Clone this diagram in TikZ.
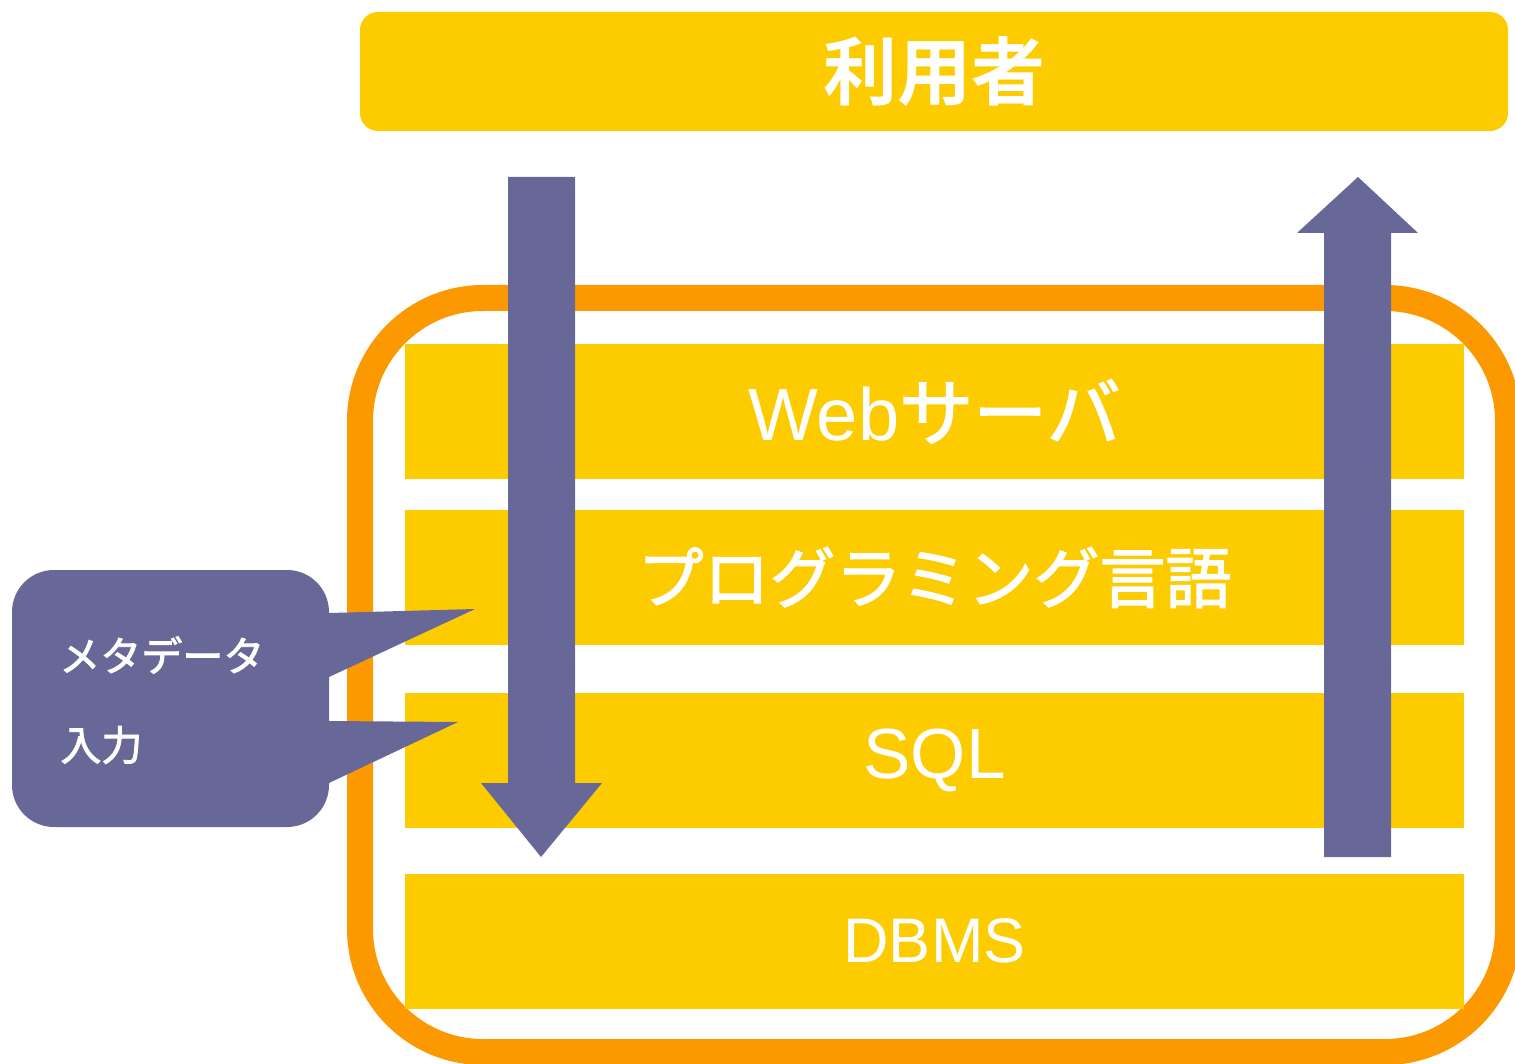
\documentclass[tikz,border=0pt]{standalone}
\usepackage{fontspec}
\setmainfont{Liberation Sans}
\newfontfamily\jpfont{Noto Sans CJK JP}[FakeBold=2,BoldFont={Noto Sans CJK JP Bold},BoldFeatures={FakeBold=0}]
\definecolor{layerc}{RGB}{252,204,0}
\definecolor{framec}{RGB}{253,153,0}
\definecolor{flowc}{RGB}{103,104,152}

\begin{document}
\begin{tikzpicture}[x=0.5pt,y=-0.5pt]
	\tikzstyle{layer}=[fill=layerc,text=white,inner sep=0pt,minimum width=529.5pt,minimum height=67.5pt]
	\tikzstyle{flow}=[fill=flowc,draw=none]
	\tikzstyle{note}=[text=white,inner sep=0pt,anchor=west,font=\jpfont\fontsize{20.5}{20.5}\selectfont]
	\useasboundingbox (0,0) rectangle (1515,1064);
	% user on top
	\node (user) [layer, rounded corners=9pt, minimum width=574pt, minimum height=59.5pt, font=\jpfont\bfseries\fontsize{37}{37}\selectfont] at (934,71.5) {利用者};
	% system frame and its layers
	\draw[framec, line width=13pt, rounded corners=61.5pt] (360,298) rectangle (1508,1052);
	\node (web) [layer, font=\fontsize{37}{37}\selectfont] at (934.5,411.5) {Web{\jpfont サーバ}};
	\node (lang) [layer, font=\jpfont\fontsize{33}{33}\selectfont] at (934.5,577.5) {プログラミング言語};
	\node (sql) [layer, font=\fontsize{35.5}{35.5}\selectfont] at (934.5,760) {SQL};
	\node (dbms) [layer, font=\fontsize{31.5}{31.5}\selectfont] at (934.5,941) {DBMS};
	% request down, response up
	\fill[flow] (508,177) -- (575,177) -- (575,783) -- (602,783) -- (541,857) -- (481,783) -- (508,783) -- cycle;
	\fill[flow] (1324,857) -- (1324,233) -- (1297,233) -- (1358,177) -- (1418,233) -- (1391,233) -- (1391,857) -- cycle;
	% callout
	\node (meta) [flow, rounded corners=21pt, minimum width=158.5pt, minimum height=128.5pt] at (170.5,698.5) {};
	\fill[flow] (329,613) -- (475,609) -- (329,677) -- cycle;
	\fill[flow] (329,721) -- (458,722) -- (329,783) -- cycle;
	\node (metatext) [note] at (59,655) {メタデータ};
	\node (inputtext) [note] at (60,745) {入力};
\end{tikzpicture}
\end{document}
